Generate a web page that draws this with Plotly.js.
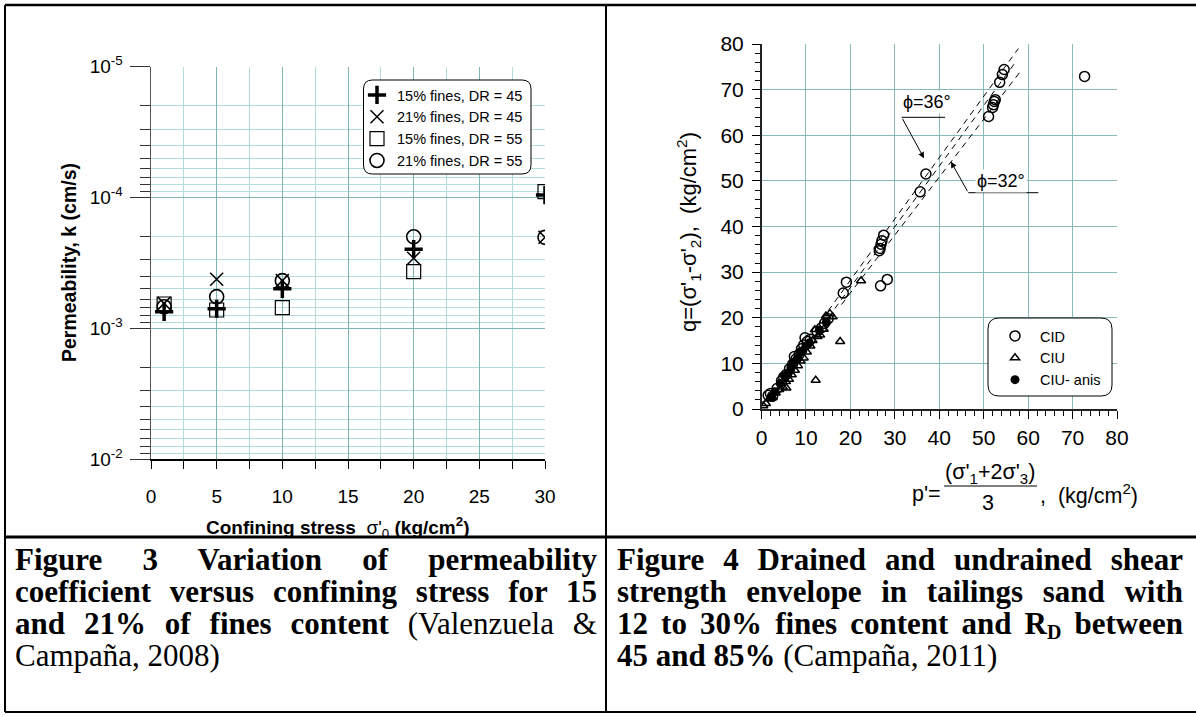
<!DOCTYPE html>
<html><head><meta charset="utf-8">
<script src="https://cdn.plot.ly/plotly-3.0.1.min.js"></script>
<style>
body{margin:0;background:#fff}
#wrap{position:relative;width:1196px;height:717px;overflow:hidden;background:#fff}
#chart{position:absolute;left:0;top:0;width:1196px;height:717px}
.cap{position:absolute;font-family:'Liberation Serif','Times New Roman',serif;font-size:31px;line-height:32px;color:#000}
.cap div{text-align:justify;text-align-last:justify;white-space:normal}
.cap div.last{text-align-last:left}
.cap sub{font-size:20px;vertical-align:-5px;line-height:0}
</style></head>
<body>
<div id="wrap">
<div id="chart"></div>
<div class="cap" style="left:15px;top:544px;width:582px">
<div><b>Figure 3 Variation of permeability</b></div>
<div><b>coefficient versus confining stress for 15</b></div>
<div><b>and 21% of fines content</b> (Valenzuela &amp;</div>
<div class="last">Campaña, 2008)</div>
</div>
<div class="cap" style="left:617px;top:544px;width:566px">
<div><b>Figure 4 Drained and undrained shear</b></div>
<div><b>strength envelope in tailings sand with</b></div>
<div><b>12 to 30% fines content and R<sub>D</sub> between</b></div>
<div class="last"><b>45 and 85%</b> (Campaña, 2011)</div>
</div>
</div>
<script>
// ---------- Figure 3 data ----------
const stress = [1, 5, 10, 20, 30];
const k15_45 = [7.5e-4, 7.1e-4, 5.0e-4, 2.49e-4, 9.6e-5];
const k21_45 = [6.46e-4, 4.23e-4, 4.33e-4, 2.92e-4, 2.02e-4];
const k15_55 = [6.53e-4, 7.26e-4, 6.97e-4, 3.7e-4, 9.04e-5];
const k21_55 = [6.86e-4, 5.74e-4, 4.33e-4, 2.0e-4, 2.02e-4];
const kTickVals = [1e-5, 1e-4, 1e-3, 1e-2];
const kTickText = ['10<sup>-5</sup>', '10<sup>-4</sup>', '10<sup>-3</sup>', '10<sup>-2</sup>'];
const stressTicks = [0, 5, 10, 15, 20, 25, 30];

// ---------- Figure 4 data ----------
const cidP = [1.5, 2.0, 2.5, 3.5, 4.5, 5.0, 5.5, 6.3, 7.0, 7.4, 7.8, 8.5, 9.0, 9.5, 9.8, 10.3, 11.0, 12.5, 13.5, 14.2, 15.0,
  18.4, 19.1, 26.5, 26.7, 26.9, 27.1, 27.5, 26.8, 28.3, 35.7, 37.0, 51.1, 52.0, 52.2, 52.4, 52.6, 53.6, 54.2, 54.6, 72.7];
const cidQ = [3.0, 3.4, 2.8, 4.5, 6.2, 7.0, 7.5, 8.8, 9.8, 11.5, 11.0, 12.0, 13.2, 14.0, 15.6, 14.8, 15.3, 17.0, 17.8, 18.8, 19.8,
  25.4, 27.8, 34.7, 35.2, 36.1, 36.9, 38.1, 27.0, 28.4, 47.6, 51.5, 64.1, 66.1, 66.7, 67.4, 67.8, 71.6, 73.3, 74.4, 72.9];
const ciuP = [0.4, 1.0, 1.8, 2.5, 3.2, 4.0, 4.8, 5.6, 5.5, 6.2, 6.8, 7.5, 8.2, 8.8, 9.5, 10.2, 11.0, 11.5, 12.0, 12.6, 13.2, 14.0, 14.5, 15.4, 16.0, 17.7, 12.2, 22.4];
const ciuQ = [0.7, 1.2, 2.2, 2.5, 3.5, 4.3, 4.8, 4.6, 6.0, 6.5, 7.5, 8.5, 9.5, 10.5, 11.2, 12.5, 13.8, 15.0, 17.4, 15.9, 16.2, 17.5, 20.4, 20.9, 20.2, 14.8, 6.3, 28.1];
const anisP = [2.2, 3.0, 4.2, 5.2, 6.0, 6.6, 7.2, 8.0, 8.7, 9.3, 10.0, 10.8, 13.0, 14.6];
const anisQ = [2.6, 3.8, 5.6, 7.2, 7.8, 9.0, 10.2, 11.0, 12.5, 12.8, 13.8, 14.5, 17.3, 19.0];
// strength envelopes (dashed)
const envA_p = [15.0, 57.8], envA_q = [21.5, 79.0];
const envB_p = [16.5, 57.0], envB_q = [22.0, 75.8];
const envC_p = [18.0, 58.5], envC_q = [22.9, 74.3];

// ---------- helpers ----------
const W = 1196, H = 717;
const PX = v => v / W, PY = v => 1 - v / H;
function rrect(x0, y0, x1, y1, r) {
  return `M${PX(x0 + r)},${PY(y0)} L${PX(x1 - r)},${PY(y0)} Q${PX(x1)},${PY(y0)} ${PX(x1)},${PY(y0 + r)} ` +
    `L${PX(x1)},${PY(y1 - r)} Q${PX(x1)},${PY(y1)} ${PX(x1 - r)},${PY(y1)} L${PX(x0 + r)},${PY(y1)} ` +
    `Q${PX(x0)},${PY(y1)} ${PX(x0)},${PY(y1 - r)} L${PX(x0)},${PY(y0 + r)} Q${PX(x0)},${PY(y0)} ${PX(x0 + r)},${PY(y0)} Z`;
}
const minorK = [];
for (let e = -5; e <= -3; e++) for (let m = 2; m <= 9; m++) minorK.push(m * Math.pow(10, e));
const minorS = [2.5, 7.5, 12.5, 17.5, 22.5, 27.5];

const FONT = 'Arial, "Liberation Sans", sans-serif';
const black = '#000';

const traces = [
  {x: stress, y: k15_45, name: '15% fines, DR = 45', type: 'scatter', mode: 'markers', xaxis: 'x', yaxis: 'y', legend: 'legend',
    marker: {symbol: 'cross-thin-open', size: 13, color: black, line: {width: 3.5, color: black}}},
  {x: stress, y: k21_45, name: '21% fines, DR = 45', type: 'scatter', mode: 'markers', xaxis: 'x', yaxis: 'y', legend: 'legend',
    marker: {symbol: 'x-thin-open', size: 13, color: black, line: {width: 1.5, color: black}}},
  {x: stress, y: k15_55, name: '15% fines, DR = 55', type: 'scatter', mode: 'markers', xaxis: 'x', yaxis: 'y', legend: 'legend',
    marker: {symbol: 'square-open', size: 14, color: black, line: {width: 1.2, color: black}}},
  {x: stress, y: k21_55, name: '21% fines, DR = 55', type: 'scatter', mode: 'markers', xaxis: 'x', yaxis: 'y', legend: 'legend',
    marker: {symbol: 'circle-open', size: 14, color: black, line: {width: 1.6, color: black}}},

  {x: envA_p, y: envA_q, type: 'scatter', mode: 'lines', xaxis: 'x2', yaxis: 'y2', showlegend: false,
    line: {color: black, width: 1, dash: '6px,5px'}},
  {x: envB_p, y: envB_q, type: 'scatter', mode: 'lines', xaxis: 'x2', yaxis: 'y2', showlegend: false,
    line: {color: black, width: 1, dash: '6px,5px'}},
  {x: envC_p, y: envC_q, type: 'scatter', mode: 'lines', xaxis: 'x2', yaxis: 'y2', showlegend: false,
    line: {color: black, width: 1, dash: '6px,5px'}},

  {x: cidP, y: cidQ, name: 'CID', type: 'scatter', mode: 'markers', xaxis: 'x2', yaxis: 'y2', legend: 'legend2',
    marker: {symbol: 'circle-open', size: 10, color: black, line: {width: 1.5, color: black}}},
  {x: ciuP, y: ciuQ, name: 'CIU', type: 'scatter', mode: 'markers', xaxis: 'x2', yaxis: 'y2', legend: 'legend2',
    marker: {symbol: 'triangle-up-open', size: 8, color: black, line: {width: 1.5, color: black}}},
  {x: anisP, y: anisQ, name: 'CIU- anis', type: 'scatter', mode: 'markers', xaxis: 'x2', yaxis: 'y2', legend: 'legend2',
    marker: {symbol: 'circle', size: 9, color: black}}
];

const gridMajor = '#7fb5b5', gridMinor = '#b4dcdc', gridR = '#88baba';

function ann(x, y, text, size, extra) {
  return Object.assign({xref: 'paper', yref: 'paper', x: PX(x), y: PY(y), text: text, showarrow: false,
    xanchor: 'center', yanchor: 'middle', font: {family: FONT, size: size, color: black}}, extra || {});
}

const layout = {
  width: W, height: H, margin: {l: 0, r: 0, t: 0, b: 0},
  paper_bgcolor: '#fff', plot_bgcolor: '#fff', showlegend: true,
  font: {family: FONT, color: black},
  xaxis: {domain: [PX(151), PX(545)], range: [0, 30], anchor: 'y', tickmode: 'array', tickvals: stressTicks,
    ticks: 'outside', ticklen: 8, tickwidth: 1, tickcolor: black, showline: true, linecolor: black, linewidth: 1.5,
    showgrid: true, gridcolor: gridMajor, gridwidth: 1, zeroline: false,
    tickfont: {family: FONT, size: 19, color: black}, ticklabelstandoff: 12,
    minor: {tickmode: 'array', tickvals: minorS, ticks: 'outside', ticklen: 8, tickcolor: black, showgrid: true, gridcolor: gridMinor, gridwidth: 1}},
  yaxis: {type: 'log', domain: [1 - 459 / H, 1 - 66.6 / H], range: [-2, -5], anchor: 'x', tickmode: 'array',
    tickvals: kTickVals, ticktext: kTickText, ticks: 'outside', ticklen: 20, tickwidth: 1, tickcolor: '#333',
    showline: true, linecolor: '#555', linewidth: 1.5, showgrid: true, gridcolor: gridMajor, gridwidth: 1, zeroline: false,
    tickfont: {family: FONT, size: 19, color: black}, ticklabelstandoff: 3,
    minor: {tickmode: 'array', tickvals: minorK, ticks: 'outside', ticklen: 10, tickcolor: '#333', showgrid: true, gridcolor: gridMinor, gridwidth: 1}},
  xaxis2: {domain: [PX(761.5), PX(1117)], range: [0, 80], anchor: 'y2', dtick: 10, tick0: 0,
    ticks: 'outside', ticklen: 8, tickwidth: 1, tickcolor: black, showline: true, linecolor: '#222', linewidth: 1.5,
    showgrid: true, gridcolor: gridR, gridwidth: 1, zeroline: false,
    tickfont: {family: FONT, size: 21, color: black}, ticklabelstandoff: 1,
    minor: {dtick: 2, ticks: 'outside', ticklen: 5, tickcolor: black, showgrid: false}},
  yaxis2: {domain: [1 - 409 / H, 1 - 44 / H], range: [0, 80], anchor: 'x2', dtick: 10, tick0: 0,
    ticks: 'outside', ticklen: 8, tickwidth: 1, tickcolor: black, showline: true, linecolor: '#222', linewidth: 1.5,
    showgrid: true, gridcolor: gridR, gridwidth: 1, zeroline: false,
    tickfont: {family: FONT, size: 21, color: black}, ticklabelstandoff: 4,
    minor: {dtick: 2, ticks: 'outside', ticklen: 5, tickcolor: black, showgrid: false}},
  legend: {x: PX(357), y: PY(79), xanchor: 'left', yanchor: 'top', bgcolor: 'rgba(0,0,0,0)', borderwidth: 0,
    font: {family: FONT, size: 14.5, color: black}, itemwidth: 30, tracegroupgap: 0},
  legend2: {x: PX(990), y: PY(320), xanchor: 'left', yanchor: 'top', bgcolor: 'rgba(0,0,0,0)', borderwidth: 0,
    font: {family: FONT, size: 14.5, color: black}, itemwidth: 40, tracegroupgap: 0},
  shapes: [
    // table borders
    {type: 'line', xref: 'paper', yref: 'paper', x0: PX(5), x1: 1, y0: PY(5), y1: PY(5), line: {color: black, width: 2.5}},
    {type: 'line', xref: 'paper', yref: 'paper', x0: PX(5), x1: PX(5), y0: PY(5), y1: PY(712), line: {color: black, width: 2}},
    {type: 'line', xref: 'paper', yref: 'paper', x0: PX(606), x1: PX(606), y0: PY(5), y1: PY(712), line: {color: black, width: 2}},
    {type: 'line', xref: 'paper', yref: 'paper', x0: PX(5), x1: 1, y0: PY(537), y1: PY(537), line: {color: black, width: 3}},
    {type: 'line', xref: 'paper', yref: 'paper', x0: PX(5), x1: 1, y0: PY(712), y1: PY(712), line: {color: black, width: 2}},
    // legend boxes
    {type: 'path', xref: 'paper', yref: 'paper', path: rrect(363.5, 80, 531, 174, 9), fillcolor: '#fff', line: {color: black, width: 1}, layer: 'above'},
    {type: 'path', xref: 'paper', yref: 'paper', path: rrect(988, 318, 1112, 396, 11), fillcolor: '#fff', line: {color: black, width: 1}, layer: 'above'},
    // fraction bar of p'
    {type: 'line', xref: 'paper', yref: 'paper', x0: PX(944), x1: PX(1037), y0: PY(486), y1: PY(486), line: {color: black, width: 1.2}},
    // leader lines for phi labels
    {type: 'line', xref: 'x2', yref: 'y2', x0: 31.55, x1: 41.3, y0: 63.93, y1: 63.93, line: {color: black, width: 1}},
    {type: 'line', xref: 'x2', yref: 'y2', x0: 46.53, x1: 62.3, y0: 47.41, y1: 47.41, line: {color: black, width: 1}}
  ],
  annotations: [
    ann(69, 263, '<b>Permeability, k (cm/s)</b>', 19.5, {textangle: -90}),
    ann(338, 527, '<b>Confining stress</b>  σ\'<sub>0</sub> <b>(kg/cm<sup>2</sup>)</b>', 19),
    ann(689, 232, 'q=(σ\'<sub>1</sub>-σ\'<sub>2</sub>),  (kg/cm<sup>2</sup>)', 22, {textangle: -90}),
    ann(990, 473, '(σ\'<sub>1</sub>+2σ\'<sub>3</sub>)', 21.5),
    ann(988, 503, '3', 21.5),
    ann(943, 494, 'p\'=', 21.5, {xanchor: 'right'}),
    ann(1038, 494, ',  (kg/cm<sup>2</sup>)', 21.5, {xanchor: 'left'}),
    {xref: 'x2', yref: 'y2', x: 37.24, y: 67.29, text: 'ϕ=36°', showarrow: false, bgcolor: '#fff',
      xanchor: 'center', yanchor: 'middle', font: {family: FONT, size: 18, color: black}},
    {xref: 'x2', yref: 'y2', x: 53.9, y: 49.97, text: 'ϕ=32°', showarrow: false, bgcolor: '#fff',
      xanchor: 'center', yanchor: 'middle', font: {family: FONT, size: 18, color: black}},
    {xref: 'x2', yref: 'y2', axref: 'x2', ayref: 'y2', x: 36.57, y: 54.95, ax: 31.55, ay: 63.93, text: '', showarrow: true,
      arrowhead: 2, arrowsize: 1.2, arrowwidth: 1, arrowcolor: black},
    {xref: 'x2', yref: 'y2', axref: 'x2', ayref: 'y2', x: 42.64, y: 54.2, ax: 46.53, ay: 47.41, text: '', showarrow: true,
      arrowhead: 2, arrowsize: 1.2, arrowwidth: 1, arrowcolor: black}
  ]
};

Plotly.newPlot('chart', traces, layout, {displayModeBar: false, staticPlot: true});
</script>
</body></html>
